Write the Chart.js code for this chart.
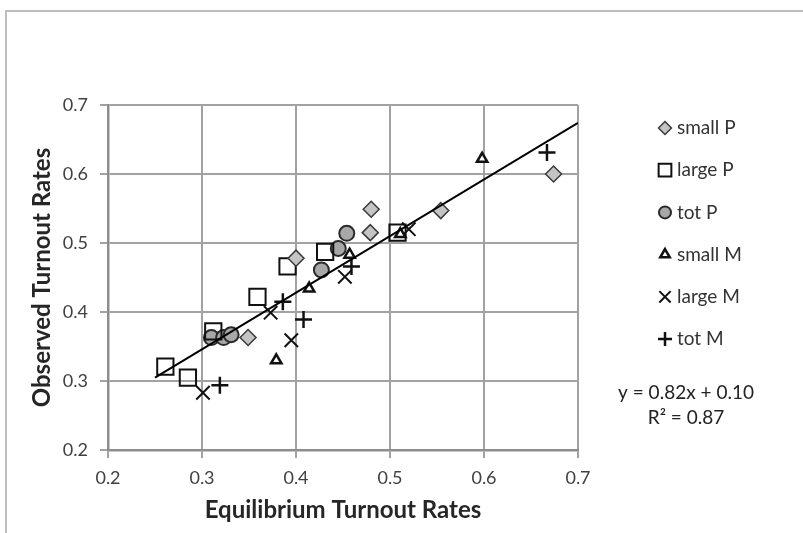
<!DOCTYPE html>
<html><head><meta charset="utf-8">
<script src="https://cdn.jsdelivr.net/npm/chart.js@4"></script>
<style>
html,body{margin:0;padding:0;background:#fff;}
#frame{position:absolute;left:5px;top:10px;width:798px;height:523px;border-top:2px solid #bdbdbd;border-left:2px solid #bdbdbd;}
#wrap{position:absolute;left:0;top:0;width:803px;height:533px;}
</style></head><body>
<div id="frame"></div>
<div id="wrap"><canvas id="c" width="803" height="533"></canvas></div>
<script>
// ---- data ----
const seriesNames = ["small P", "large P", "tot P", "small M", "large M", "tot M"];
const smallP = [{x:0.480,y:0.549},{x:0.479,y:0.515},{x:0.400,y:0.478},{x:0.674,y:0.600},{x:0.554,y:0.547},{x:0.349,y:0.363}];
const largeP = [{x:0.431,y:0.487},{x:0.391,y:0.466},{x:0.359,y:0.422},{x:0.312,y:0.372},{x:0.261,y:0.321},{x:0.285,y:0.305},{x:0.508,y:0.515}];
const totP   = [{x:0.454,y:0.514},{x:0.445,y:0.492},{x:0.427,y:0.461},{x:0.310,y:0.363},{x:0.323,y:0.363},{x:0.331,y:0.367}];
const smallM = [{x:0.598,y:0.622},{x:0.511,y:0.513},{x:0.414,y:0.434},{x:0.379,y:0.330},{x:0.457,y:0.483}];
const largeM = [{x:0.520,y:0.520},{x:0.452,y:0.451},{x:0.373,y:0.399},{x:0.395,y:0.359},{x:0.301,y:0.283}];
const totM   = [{x:0.667,y:0.631},{x:0.386,y:0.415},{x:0.408,y:0.389},{x:0.319,y:0.294},{x:0.459,y:0.466}];
const trendSlope = 0.82, trendIntercept = 0.10, trendR2 = 0.87;
const trendXRange = [0.25, 0.70];
const axisTicks = [0.2, 0.3, 0.4, 0.5, 0.6, 0.7];
const xTitle = "Equilibrium Turnout Rates";
const yTitle = "Observed Turnout Rates";
// ---------------------------------------

const trendData = trendXRange.map(x => ({x: x, y: trendSlope * x + trendIntercept}));
const FONT = "Lato, 'Open Sans', sans-serif";

const styles = [
  {pointStyle:'rectRot', radius:8, bg:'#c4c4c4', bc:'#3a3a3a', bw:1.5, lr:6.5},
  {pointStyle:'rect', radius:11.5, bg:'rgba(255,255,255,0)', bc:'#111', bw:2, lr:9},
  {pointStyle:'circle', radius:7.5, bg:'#a8a8a8', bc:'#2a2a2a', bw:2, lr:6},
  {pointStyle:'triangle', radius:6, bg:'#fff', bc:'#111', bw:2.5, lr:5.5},
  {pointStyle:'crossRot', radius:9.5, bg:'#111', bc:'#111', bw:2, lr:8},
  {pointStyle:'cross', radius:8.5, bg:'#111', bc:'#111', bw:2.5, lr:7}
];
const seriesData = [smallP, largeP, totP, smallM, largeM, totM];

const datasets = seriesData.map((d, i) => ({
  label: seriesNames[i],
  data: d,
  pointStyle: styles[i].pointStyle,
  pointRadius: styles[i].radius,
  pointHoverRadius: styles[i].radius,
  backgroundColor: styles[i].bg,
  borderColor: styles[i].bc,
  pointBorderWidth: styles[i].bw,
  borderWidth: styles[i].bw,
  legendRadius: styles[i].lr,
  order: 1
}));
datasets.push({
  label: 'trend',
  isTrend: true,
  data: trendData,
  showLine: true,
  pointRadius: 0,
  borderColor: '#000',
  borderWidth: 2,
  order: 0
});

const legendPlugin = {
  id: 'customLegend',
  afterDraw(chart) {
    const ctx = chart.ctx;
    const mx = 665, tx = 677, y0 = 128, step = 42.2;
    ctx.save();
    let k = 0;
    chart.data.datasets.forEach((ds) => {
      if (ds.isTrend) return;
      const y = y0 + k * step;
      ctx.fillStyle = ds.backgroundColor;
      ctx.strokeStyle = ds.borderColor;
      ctx.lineWidth = ds.pointBorderWidth;
      Chart.helpers.drawPoint(ctx, {pointStyle: ds.pointStyle, radius: ds.legendRadius, borderWidth: ds.pointBorderWidth, rotation: 0}, mx, y);
      ctx.fillStyle = '#333';
      ctx.font = "19px " + FONT;
      ctx.textAlign = 'left';
      ctx.textBaseline = 'middle';
      ctx.fillText(ds.label, tx, y);
      k++;
    });
    ctx.fillStyle = '#222';
    ctx.font = "19px " + FONT;
    ctx.textAlign = 'center';
    ctx.textBaseline = 'middle';
    ctx.fillText('y = ' + trendSlope.toFixed(2) + 'x + ' + trendIntercept.toFixed(2), 686, 393);
    ctx.fillText('R\u00B2 = ' + trendR2.toFixed(2), 686, 418);
    ctx.restore();
  }
};

const axisCommon = {
  type: 'linear',
  min: axisTicks[0],
  max: axisTicks[axisTicks.length - 1],
  afterBuildTicks: (scale) => { scale.ticks = axisTicks.map(v => ({value: v})); },
  grid: {color: '#a2a2a2', lineWidth: 2, tickLength: 8, tickColor: '#a2a2a2', drawTicks: true},
  border: {color: '#8e8e8e', width: 2.5}
};

new Chart(document.getElementById('c'), {
  type: 'scatter',
  data: {datasets},
  options: {
    responsive: false,
    animation: false,
    devicePixelRatio: 1,
    layout: {padding: {left: 0, top: 105, right: 225, bottom: 0}},
    plugins: {legend: {display: false}, tooltip: {enabled: false}},
    scales: {
      x: Object.assign({}, axisCommon, {
        position: 'bottom',
        ticks: {font: {size: 18, family: FONT}, color: '#404040', padding: 9, callback: v => v.toFixed(1)},
        title: {display: true, text: xTitle, font: {size: 24, weight: 'bold', family: FONT}, color: '#262626', padding: {top: 0, bottom: 8}},
        afterFit: (s) => { s.height = 83; }
      }),
      y: Object.assign({}, axisCommon, {
        position: 'left',
        ticks: {font: {size: 18, family: FONT}, color: '#404040', padding: 12, callback: v => v.toFixed(1)},
        title: {display: true, text: yTitle, font: {size: 24, weight: 'bold', family: FONT}, color: '#262626', padding: {top: 28, bottom: 0}},
        afterFit: (s) => { s.width = 108; }
      })
    }
  },
  plugins: [legendPlugin]
});
</script>
</body></html>
